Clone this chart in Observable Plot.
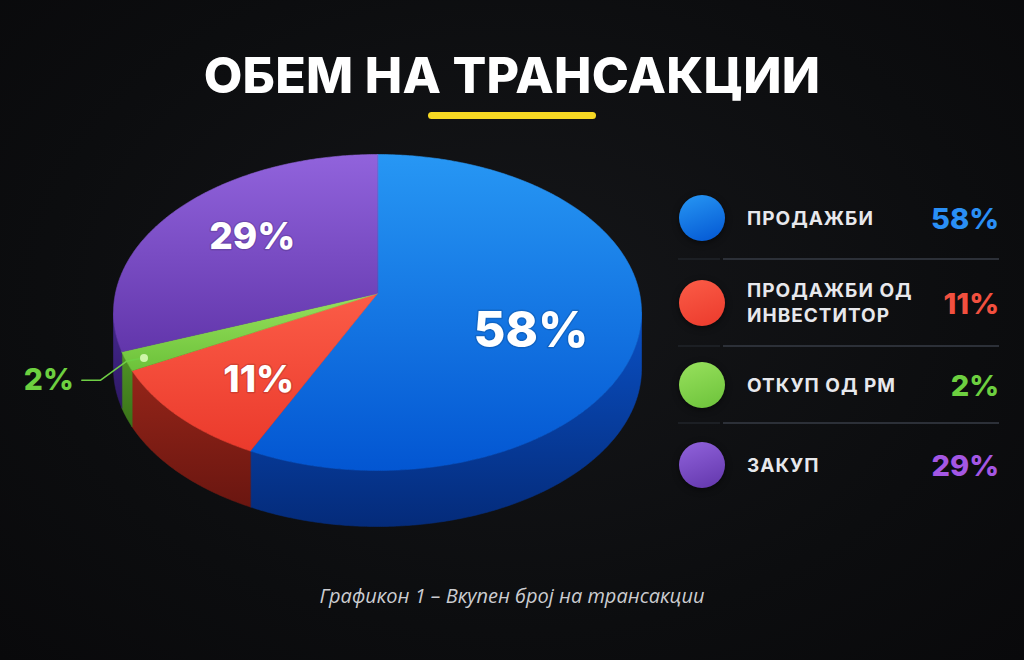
<!DOCTYPE html>
<html>
<head>
<meta charset="utf-8">
<script src="https://cdn.jsdelivr.net/npm/d3@7"></script>
<script src="https://cdn.jsdelivr.net/npm/@observablehq/plot@0.6"></script>
<style>
  html, body { margin: 0; padding: 0; background: #0c0d0f; }
  #page { position: relative; width: 1024px; height: 660px; overflow: hidden;
    background: radial-gradient(ellipse at 50% 45%, #151619 0%, #0c0d0f 65%, #09090b 100%);
    font-family: Inter, "Noto Sans", sans-serif; }
  #chart { position: absolute; left: 0; top: 0; }
  #title { position: absolute; left: 0; top: 45px; width: 1024px; text-align: center; color: #ffffff;
    font-weight: 800; font-size: 50px; line-height: 60px; letter-spacing: 0.3px; }
  #underline { position: absolute; left: 428px; top: 112px; width: 168px; height: 7px; border-radius: 4px; background: #f6d823; }
  #caption { position: absolute; left: 0; top: 582px; width: 1024px; text-align: center; color: #cbccd0;
    font-family: "Open Sans", sans-serif; font-style: italic; font-size: 20px; }
  .row { position: absolute; left: 679px; width: 320px; height: 60px; display: flex; align-items: center; }
  .dot { width: 46px; height: 46px; border-radius: 50%; flex: none; box-shadow: 0 2px 6px rgba(0,0,0,0.5); }
  .lab { margin-left: 22px; color: #e7e8ec; font-weight: 700; font-size: 19px; letter-spacing: 1px; line-height: 25px; flex: 1; }
  .val { font-weight: 800; font-size: 29px; text-align: right; }
  .sep { position: absolute; height: 2px; background: #2c3038; }
  .sep.faint { background: #1c1f24; }
</style>
</head>
<body>
<div id="page">
  <div id="chart"></div>
  <div id="title">ОБЕМ НА ТРАНСАКЦИИ</div>
  <div id="underline"></div>
  <div id="legend"></div>
  <div id="caption">Графикон 1 – Вкупен број на трансакции</div>
</div>
<script>
// ---- data ----
const categories = ["ПРОДАЖБИ", "ПРОДАЖБИ ОД ИНВЕСТИТОР", "ОТКУП ОД РМ", "ЗАКУП"];
const legendLines = [["ПРОДАЖБИ"], ["ПРОДАЖБИ ОД", "ИНВЕСТИТОР"], ["ОТКУП ОД РМ"], ["ЗАКУП"]];
const shares = [58, 11, 2, 29];
const valueLabels = ["58%", "11%", "2%", "29%"];

// ---- colours ----
const topFrom  = ["#2797f4", "#fb5c47", "#98e15d", "#9163dc"];
const topTo    = ["#0356d2", "#eb3a2c", "#6cc23a", "#6236ab"];
const sideFrom = ["#0a50c4", "#952519", "#509526", "#46288f"];
const sideTo   = ["#042b7a", "#6a1610", "#3a7219", "#2e1965"];
const valueColors = ["#2a8ff5", "#f2503f", "#6dd040", "#a457e4"];

// ---- geometry (layout) ----
const CX = 377, CY = 312, RX = 264, RY = 158;
const DEPTH = 56 / RY;   // side height in data units
const APEX = -0.12;      // apex offset (perspective)

const total = d3.sum(shares);
let acc = 0;
const slices = shares.map((v, i) => {
  const t0 = acc / total * 360; acc += v; const t1 = acc / total * 360;
  return {i, t0, t1, mid: (t0 + t1) / 2, share: v};
});
const rad = t => t * Math.PI / 180;
const rim = (t, r = 1, dy = 0) => ({x: r * Math.sin(rad(t)), y: -r * Math.cos(rad(t)) + dy});
const arcPts = (a, b, r = 1, dy = 0) => {
  const n = Math.max(2, Math.ceil((b - a) / 0.5) + 1);
  return d3.range(n).map(k => rim(a + (b - a) * k / (n - 1), r, dy));
};

const topPts = [];
const sidePts = [];
slices.forEach(s => {
  const idT = "top" + s.i;
  const fT = `url(#gt${s.i})`;
  topPts.push({id: idT, fill: fT, x: 0, y: APEX});
  arcPts(s.t0, s.t1).forEach(p => topPts.push({id: idT, fill: fT, ...p}));
  const a = Math.max(s.t0, 90), b = Math.min(s.t1, 270);
  if (b > a) {
    const idS = "side" + s.i, fS = `url(#gs${s.i})`;
    arcPts(a, b).forEach(p => sidePts.push({id: idS, fill: fS, ...p}));
    arcPts(a, b, 1, DEPTH).reverse().forEach(p => sidePts.push({id: idS, fill: fS, ...p}));
  }
});

// in-slice labels
const inLabels = slices.filter(s => s.share >= 5).map(s => {
  const c = Math.cos(rad(s.mid)), sn = Math.sin(rad(s.mid));
  return {x: 0.6 * sn, y: -0.07 - (c < 0 ? 0.75 : 0.66) * c,
          text: valueLabels[s.i], size: s.share > 40 ? 49 : 37};
});
// outside labels with leader
const outSlices = slices.filter(s => s.share < 5);
const leader = [], outDots = [], outText = [];
outSlices.forEach(s => {
  const d = rim(s.mid, 0.93), e = rim(s.mid, 1.0);
  const yL = e.y + 0.12;
  leader.push({id: s.i, ...d}, {id: s.i, ...e}, {id: s.i, x: -1.05, y: yL}, {id: s.i, x: -1.12, y: yL});
  outDots.push(d);
  outText.push({x: -1.245, y: yL, text: valueLabels[s.i], color: valueColors[s.i]});
});

const plot = Plot.plot({
  width: 1024, height: 660, margin: 0,
  style: {background: "transparent", overflow: "visible"},
  x: {type: "linear", domain: [-1, 1], range: [CX - RX, CX + RX], axis: null},
  y: {type: "linear", domain: [-1, 1], range: [CY - RY, CY + RY], axis: null},
  color: {type: "identity"},
  marks: [
    Plot.line(sidePts, {x: "x", y: "y", z: "id", fill: "fill", stroke: "fill", strokeWidth: 0.6, curve: "linear-closed"}),
    Plot.line(topPts, {x: "x", y: "y", z: "id", fill: "fill", stroke: "fill", strokeWidth: 0.6, curve: "linear-closed"}),
    Plot.text(inLabels, {x: "x", y: "y", text: "text", fontSize: "size", fill: "white", fontWeight: 800,
      fontFamily: "Inter, sans-serif", stroke: "rgba(0,0,0,0.12)", strokeWidth: 3}),
    Plot.line(leader, {x: "x", y: "y", z: "id", stroke: "#6fcf45", strokeWidth: 1.6}),
    Plot.dot(outDots, {x: "x", y: "y", r: 4, fill: "#cdf5a8"}),
    Plot.text(outText, {x: "x", y: "y", text: "text", fill: "color", fontSize: 30, fontWeight: 800, fontFamily: "Inter, sans-serif"})
  ]
});

// gradients
const ns = "http://www.w3.org/2000/svg";
const defs = document.createElementNS(ns, "defs");
const addGrad = (id, c0, c1) => {
  const g = document.createElementNS(ns, "linearGradient");
  g.setAttribute("id", id); g.setAttribute("x1", "0"); g.setAttribute("y1", "0"); g.setAttribute("x2", "0"); g.setAttribute("y2", "1");
  [[0, c0], [1, c1]].forEach(([o, c]) => {
    const st = document.createElementNS(ns, "stop");
    st.setAttribute("offset", o); st.setAttribute("stop-color", c); g.appendChild(st);
  });
  defs.appendChild(g);
};
slices.forEach(s => { addGrad("gt" + s.i, topFrom[s.i], topTo[s.i]); addGrad("gs" + s.i, sideFrom[s.i], sideTo[s.i]); });
plot.insertBefore(defs, plot.firstChild);
document.getElementById("chart").appendChild(plot);

// legend
const rowCenters = [218, 303, 385, 465];
const legend = document.getElementById("legend");
categories.forEach((c, i) => {
  const row = document.createElement("div");
  row.className = "row"; row.style.top = (rowCenters[i] - 30) + "px";
  row.title = c;
  const dot = document.createElement("div"); dot.className = "dot";
  dot.style.background = `linear-gradient(160deg, ${topFrom[i]}, ${topTo[i]})`;
  const lab = document.createElement("div"); lab.className = "lab";
  lab.innerHTML = legendLines[i].join("<br>");
  const val = document.createElement("div"); val.className = "val";
  val.style.color = valueColors[i]; val.textContent = valueLabels[i];
  row.append(dot, lab, val); legend.appendChild(row);
});
[259, 346, 423].forEach(y => {
  const s = document.createElement("div"); s.className = "sep";
  s.style.left = "723px"; s.style.width = "276px"; s.style.top = (y - 1) + "px"; legend.appendChild(s);
  const f = document.createElement("div"); f.className = "sep faint";
  f.style.left = "678px"; f.style.width = "42px"; f.style.top = (y - 1) + "px"; legend.appendChild(f);
});
</script>
</body>
</html>
